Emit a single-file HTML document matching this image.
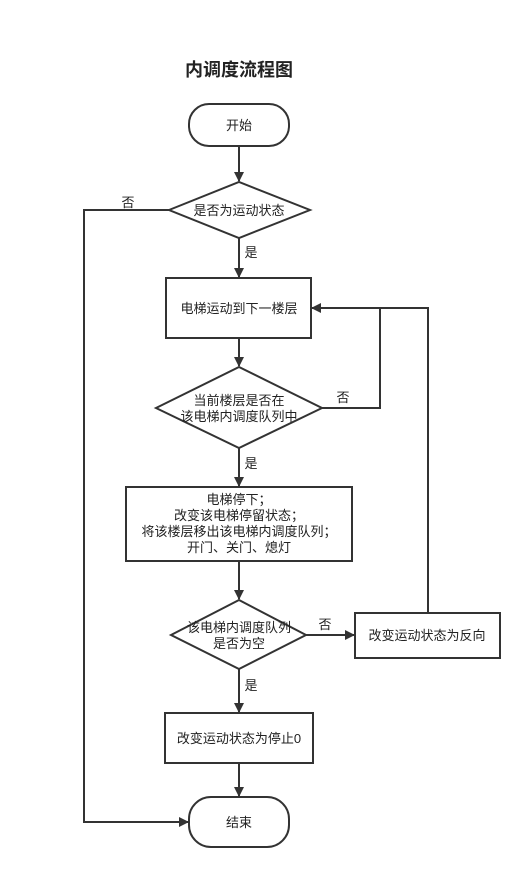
<!DOCTYPE html>
<html><head><meta charset="utf-8"><style>
html,body{margin:0;padding:0;background:#fff;}
svg text{font-family:"Liberation Sans","Noto Sans CJK SC",sans-serif;font-size:13px;fill:#222;}
</style></head><body>
<svg width="532" height="879" xmlns="http://www.w3.org/2000/svg">
<defs><marker id="a" markerWidth="10" markerHeight="10" refX="9" refY="5" orient="auto" markerUnits="userSpaceOnUse"><path d="M0,0 L10,5 L0,10 Z" fill="#333"/></marker></defs>
<g stroke="#333" stroke-width="2" fill="none">
<rect x="189" y="104" width="100" height="42" rx="20"/>
<polygon points="169,210 239,182 310,210 239,238" fill="#fff"/>
<rect x="166" y="278" width="145" height="60"/>
<polygon points="156,408 239,367 322,408 239,448" fill="#fff"/>
<rect x="126" y="487" width="226" height="74"/>
<polygon points="171,635 239,600 306,635 239,669" fill="#fff"/>
<rect x="355" y="613" width="145" height="45"/>
<rect x="165" y="713" width="148" height="50"/>
<rect x="189" y="797" width="100" height="50" rx="22"/>
<line x1="239" y1="146" x2="239" y2="181" marker-end="url(#a)"/>
<line x1="239" y1="238" x2="239" y2="277" marker-end="url(#a)"/>
<line x1="239" y1="338" x2="239" y2="366" marker-end="url(#a)"/>
<line x1="239" y1="448" x2="239" y2="486" marker-end="url(#a)"/>
<line x1="239" y1="561" x2="239" y2="599" marker-end="url(#a)"/>
<line x1="239" y1="669" x2="239" y2="712" marker-end="url(#a)"/>
<line x1="239" y1="763" x2="239" y2="796" marker-end="url(#a)"/>
<polyline points="169,210 84,210 84,822 188,822" marker-end="url(#a)"/>
<polyline points="322,408 380,408 380,308"/>
<polyline points="428,613 428,308 312,308" marker-end="url(#a)"/>
<line x1="306" y1="635" x2="354" y2="635" marker-end="url(#a)"/>
</g>
<text x="239" y="76" text-anchor="middle" style="font-size:18px;font-weight:bold">内调度流程图</text>
<text x="239" y="130" text-anchor="middle">开始</text>
<text x="239" y="215" text-anchor="middle">是否为运动状态</text>
<text x="128" y="207" text-anchor="middle">否</text>
<text x="251" y="257" text-anchor="middle">是</text>
<text x="239" y="313" text-anchor="middle">电梯运动到下一楼层</text>
<text x="239" y="405" text-anchor="middle">当前楼层是否在</text>
<text x="239" y="421" text-anchor="middle">该电梯内调度队列中</text>
<text x="343" y="402" text-anchor="middle">否</text>
<text x="251" y="468" text-anchor="middle">是</text>
<text x="239" y="504" text-anchor="middle">电梯停下；</text>
<text x="239" y="520" text-anchor="middle">改变该电梯停留状态；</text>
<text x="239" y="536" text-anchor="middle">将该楼层移出该电梯内调度队列；</text>
<text x="239" y="552" text-anchor="middle">开门、关门、熄灯</text>
<text x="239" y="632" text-anchor="middle">该电梯内调度队列</text>
<text x="239" y="648" text-anchor="middle">是否为空</text>
<text x="325" y="629" text-anchor="middle">否</text>
<text x="427" y="640" text-anchor="middle">改变运动状态为反向</text>
<text x="251" y="690" text-anchor="middle">是</text>
<text x="239" y="743" text-anchor="middle">改变运动状态为停止0</text>
<text x="239" y="827" text-anchor="middle">结束</text>
</svg>
</body></html>
